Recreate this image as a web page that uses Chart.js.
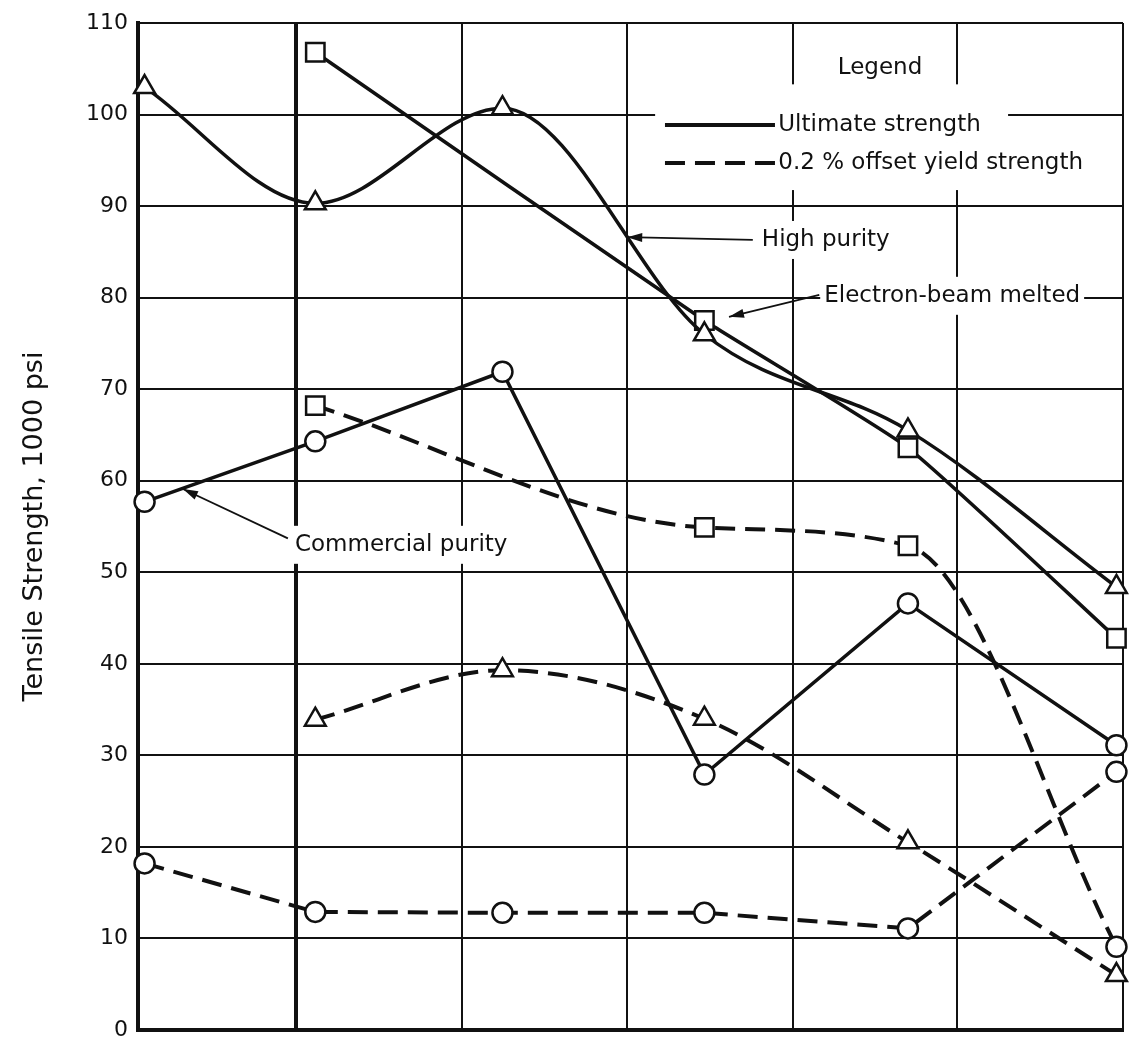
<!DOCTYPE html>
<html><head><meta charset="utf-8">
<script src="https://cdn.jsdelivr.net/npm/chart.js@4.4.1/dist/chart.umd.min.js"></script>
<style>html,body{margin:0;padding:0;background:#fff}#wrap{width:1131px;height:1041px}</style>
</head><body><div id="wrap"><canvas id="c" width="1131" height="1041"></canvas></div>
<script>
// ---- data ----
const xPositions = [0.04, 1.08, 2.22, 3.45, 4.69, 5.96];
const xGridLines = [0, 0.962, 1.974, 2.979, 3.990, 4.989, 6];
const highPurityUltimate = [103.0, 90.3, 100.7, 76.0, 65.5, 48.4];
const ebMeltedUltimate   = [null, 106.8, null, 77.5, 63.6, 42.8];
const commercialUltimate = [57.7, 64.3, 71.9, 27.9, 46.6, 31.1];
const highPurityYield    = [null, 33.9, 39.3, 34.0, 20.5, 6.0];
const ebMeltedYield      = [null, 68.2, null, 54.9, 52.9, 9.1];
const commercialYield    = [18.2, 12.9, 12.8, 12.8, 11.1, 28.2];
const yTickLabels = ['0','10','20','30','40','50','60','70','80','90','100','110'];
const yAxisTitle = 'Tensile Strength, 1000 psi';
const legendTitle = 'Legend';
const legendItems = ['Ultimate strength', '0.2 % offset yield strength'];
const labelHighPurity = 'High purity';
const labelEB = 'Electron-beam melted';
const labelCommercial = 'Commercial purity';

const FONT = "'DejaVu Sans', sans-serif";
const INK = '#111';
const DASH = [20, 10];

function pts(vals) {
  const out = [];
  vals.forEach((v, i) => { if (v !== null) out.push({x: xPositions[i], y: v}); });
  return out;
}
function ds(label, vals, style, dashed, interp, styles) {
  const radius = style === 'rect' ? 13 : (style === 'triangle' ? 12 : 10);
  const d = {
    label, data: pts(vals),
    borderColor: INK, borderWidth: dashed ? 4 : 3.5,
    borderDash: dashed ? DASH : [],
    tension: interp === 'straight' ? 0 : (interp === 'slight' ? 0.15 : 0.4),
    clip: false,
    pointStyle: styles || style,
    pointRadius: styles ? styles.map(s => s === 'circle' ? 10 : radius) : radius,
    pointBackgroundColor: '#fff', pointBorderColor: INK, pointBorderWidth: 2.5,
    fill: false
  };
  if (interp === 'monotone') d.cubicInterpolationMode = 'monotone';
  return d;
}

const ebYieldStyles = ['rect', 'rect', 'rect', 'circle'];

// annotation layout in data units
const annot = {
  legendTitle: {x: 4.52, y: 105.1},
  row1: {x0: 3.21, x1: 3.88, tx: 3.90, y: 98.85, box: [3.15, 5.30, 103.3, 97.0]},
  row2: {x0: 3.21, x1: 3.88, tx: 3.90, y: 94.7, box: [3.15, 5.92, 97.0, 91.75]},
  high: {tx: 3.80, ty: 86.3, from: [3.745, 86.3], to: [2.98, 86.6]},
  eb:   {tx: 4.18, ty: 80.2, from: [4.15, 80.3], to: [3.60, 77.9]},
  comm: {tx: 0.956, ty: 53.0, from: [0.913, 53.7], to: [0.274, 59.1]}
};

function arrow(ctx, x1, y1, x2, y2) {
  ctx.save();
  ctx.strokeStyle = INK; ctx.fillStyle = INK; ctx.lineWidth = 1.8; ctx.setLineDash([]);
  ctx.beginPath(); ctx.moveTo(x1, y1); ctx.lineTo(x2, y2); ctx.stroke();
  const a = Math.atan2(y2 - y1, x2 - x1), L = 15, W = 4.5;
  ctx.beginPath();
  ctx.moveTo(x2, y2);
  ctx.lineTo(x2 - L * Math.cos(a) + W * Math.sin(a), y2 - L * Math.sin(a) - W * Math.cos(a));
  ctx.lineTo(x2 - L * Math.cos(a) - W * Math.sin(a), y2 - L * Math.sin(a) + W * Math.cos(a));
  ctx.closePath(); ctx.fill();
  ctx.restore();
}

const annotPlugin = {
  id: 'annot',
  beforeDatasetsDraw(chart) {
    const {ctx, scales: {x, y}} = chart;
    const X = v => x.getPixelForValue(v), Y = v => y.getPixelForValue(v);
    ctx.save();
    ctx.font = `23px ${FONT}`;
    ctx.fillStyle = INK;
    ctx.textBaseline = 'middle';
    [annot.row1, annot.row2].forEach((r, i) => {
      const [bx0, bx1, by0, by1] = r.box;
      ctx.fillStyle = '#fff';
      ctx.fillRect(X(bx0), Y(by0), X(bx1) - X(bx0), Y(by1) - Y(by0));
      ctx.strokeStyle = INK; ctx.lineWidth = 4;
      ctx.setLineDash(i === 0 ? [] : DASH);
      ctx.beginPath(); ctx.moveTo(X(r.x0), Y(r.y)); ctx.lineTo(X(r.x1), Y(r.y)); ctx.stroke();
      ctx.setLineDash([]);
      ctx.fillStyle = INK; ctx.textAlign = 'left';
      ctx.fillText(legendItems[i], X(r.tx), Y(r.y));
    });
    ctx.textAlign = 'center';
    ctx.fillText(legendTitle, X(annot.legendTitle.x), Y(annot.legendTitle.y));
    [[annot.high, labelHighPurity], [annot.eb, labelEB], [annot.comm, labelCommercial]].forEach(([a, t]) => {
      ctx.textAlign = 'left';
      const w = ctx.measureText(t).width;
      const tx = X(a.tx), ty = Y(a.ty);
      ctx.fillStyle = '#fff';
      ctx.fillRect(tx - 4, ty - 19, w + 8, 38);
      ctx.fillStyle = INK;
      ctx.fillText(t, tx, ty);
      arrow(ctx, X(a.from[0]), Y(a.from[1]), X(a.to[0]), Y(a.to[1]));
    });
    ctx.restore();
  }
};

new Chart(document.getElementById('c'), {
  type: 'line',
  data: {
    datasets: [
      ds('High purity, ultimate', highPurityUltimate, 'triangle', false, 'monotone'),
      ds('Electron-beam melted, ultimate', ebMeltedUltimate, 'rect', false, 'slight'),
      ds('Commercial purity, ultimate', commercialUltimate, 'circle', false, 'straight'),
      ds('High purity, yield', highPurityYield, 'triangle', true, 'monotone'),
      ds('Electron-beam melted, yield', ebMeltedYield, 'rect', true, 'monotone', ebYieldStyles),
      ds('Commercial purity, yield', commercialYield, 'circle', true, 'straight')
    ]
  },
  options: {
    responsive: false, animation: false,
    layout: {autoPadding: false, padding: {top: 23, right: 8, bottom: 11, left: 0}},
    plugins: {legend: {display: false}, tooltip: {enabled: false}},
    scales: {
      x: {
        type: 'linear', min: 0, max: 6,
        ticks: {display: false, stepSize: 1},
        afterBuildTicks: s => { s.ticks = xGridLines.map(v => ({value: v})); },
        grid: {color: INK, lineWidth: c => c.index === 1 ? 4 : 2, drawTicks: false},
        border: {display: true, color: INK, width: 4},
        afterFit: s => { s.height = 0; s.paddingLeft = 0; s.paddingRight = 0; s.paddingTop = 0; s.paddingBottom = 0; }
      },
      y: {
        min: 0, max: 110,
        ticks: {stepSize: 10, color: INK, padding: 10, font: {family: FONT, size: 22},
                callback: (v, i) => yTickLabels[i]},
        grid: {color: INK, lineWidth: 2, drawTicks: false},
        border: {color: INK, width: 4},
        title: {display: true, text: yAxisTitle, color: INK, font: {family: FONT, size: 27},
                padding: {top: 19, bottom: 0}},
        afterFit: s => { s.width = 138; s.paddingTop = 0; s.paddingBottom = 0; }
      }
    }
  },
  plugins: [annotPlugin]
});
</script></body></html>
